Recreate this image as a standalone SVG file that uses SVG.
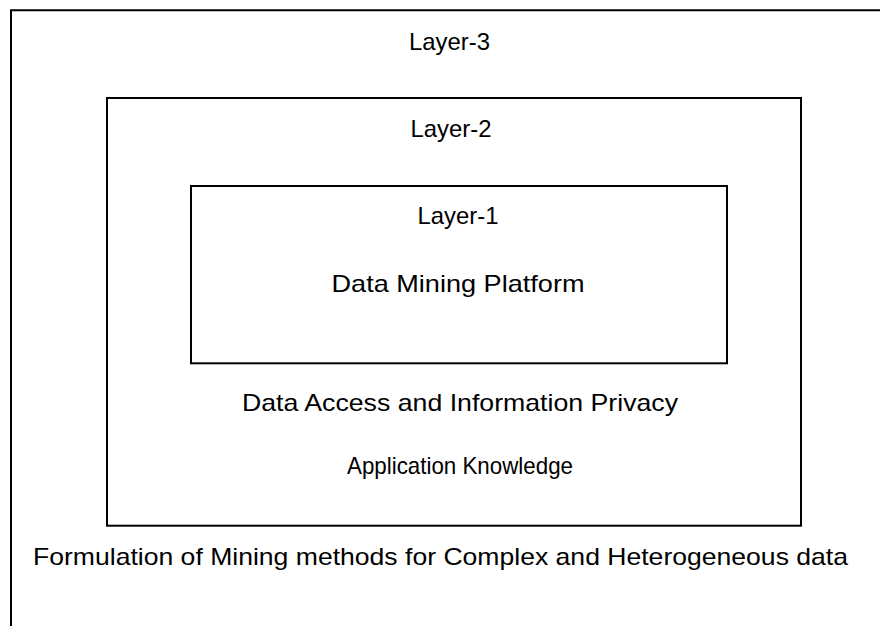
<svg xmlns="http://www.w3.org/2000/svg" width="880" height="626" viewBox="0 0 880 626">
  <style>
    .frame { fill: none; stroke: #000; stroke-width: 2; }
    .label { font-family: "Liberation Sans", Arial, sans-serif; font-size: 24px; fill: #000; text-anchor: middle; }
  </style>
  <rect width="880" height="626" fill="#fff"/>

  <!-- Layer 3: open frame, left and top edges only -->
  <g id="layer3">
    <path class="frame" d="M11,626 V10.3 H880"/>
    <text class="label" x="449.5" y="50" textLength="81" lengthAdjust="spacingAndGlyphs">Layer-3</text>
    <text class="label" x="440.5" y="565" textLength="815" lengthAdjust="spacingAndGlyphs">Formulation of Mining methods for Complex and Heterogeneous data</text>
  </g>

  <!-- Layer 2 -->
  <g id="layer2">
    <rect class="frame" x="107" y="98" width="694" height="427.7"/>
    <text class="label" x="451" y="137" textLength="81" lengthAdjust="spacingAndGlyphs">Layer-2</text>
    <text class="label" x="460" y="411" textLength="436" lengthAdjust="spacingAndGlyphs">Data Access and Information Privacy</text>
    <text class="label" x="460" y="474" textLength="226" lengthAdjust="spacingAndGlyphs">Application Knowledge</text>
  </g>

  <!-- Layer 1 -->
  <g id="layer1">
    <rect class="frame" x="191" y="186" width="536" height="177.3"/>
    <text class="label" x="458" y="224" textLength="81" lengthAdjust="spacingAndGlyphs">Layer-1</text>
    <text class="label" x="458" y="292" textLength="253" lengthAdjust="spacingAndGlyphs">Data Mining Platform</text>
  </g>

  <g id="connectors"/>
</svg>
